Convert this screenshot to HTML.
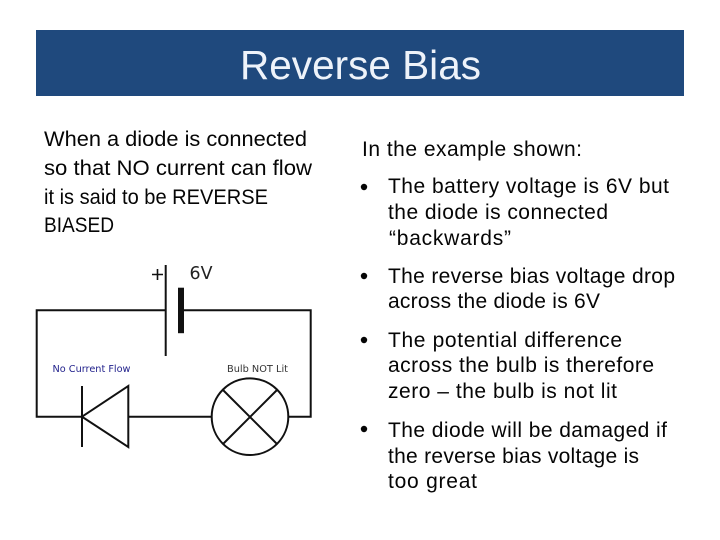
<!DOCTYPE html>
<html>
<head>
<meta charset="utf-8">
<style>
html,body{margin:0;padding:0;background:#fff;width:720px;height:540px;overflow:hidden}
svg{display:block}
.t{font-family:"Liberation Sans",sans-serif;font-size:21px;fill:#050505}
.d{font-family:"DejaVu Sans",sans-serif}
</style>
</head>
<body>
<svg width="720" height="540" viewBox="0 0 720 540" xmlns="http://www.w3.org/2000/svg">
<rect x="0" y="0" width="720" height="540" fill="#fff"/>
<rect x="36" y="30" width="648" height="66" fill="#1f497d"/>
<text x="240" y="79" font-family="'Liberation Sans',sans-serif" font-size="41" fill="#eef3fa" textLength="241" lengthAdjust="spacingAndGlyphs">Reverse Bias</text>

<text class="t" x="44" y="146" textLength="263" lengthAdjust="spacingAndGlyphs">When a diode is connected</text>
<text class="t" x="44" y="175" textLength="268" lengthAdjust="spacingAndGlyphs">so that NO current can flow</text>
<text class="t" x="44" y="204" textLength="224" lengthAdjust="spacingAndGlyphs">it is said to be REVERSE</text>
<text class="t" x="44" y="232" textLength="70" lengthAdjust="spacingAndGlyphs">BIASED</text>

<text class="t" x="362" y="156" textLength="220" lengthAdjust="spacing">In the example shown:</text>
<text class="t" x="388" y="193" textLength="281" lengthAdjust="spacing">The battery voltage is 6V but</text>
<text class="t" x="388" y="219" textLength="220" lengthAdjust="spacing">the diode is connected</text>
<text class="t" x="389" y="245" textLength="122" lengthAdjust="spacing">“backwards”</text>
<text class="t" x="388" y="283" textLength="287" lengthAdjust="spacing">The reverse bias voltage drop</text>
<text class="t" x="388" y="308" textLength="212" lengthAdjust="spacing">across the diode is 6V</text>
<text class="t" x="388" y="347" textLength="234" lengthAdjust="spacing">The potential difference</text>
<text class="t" x="388" y="372" textLength="266" lengthAdjust="spacing">across the bulb is therefore</text>
<text class="t" x="388" y="398" textLength="229" lengthAdjust="spacing">zero – the bulb is not lit</text>
<text class="t" x="388" y="437" textLength="279" lengthAdjust="spacing">The diode will be damaged if</text>
<text class="t" x="388" y="463" textLength="251" lengthAdjust="spacing">the reverse bias voltage is</text>
<text class="t" x="388" y="488" textLength="89" lengthAdjust="spacing">too great</text>

<circle cx="364" cy="187" r="3.2" fill="#050505"/>
<circle cx="364" cy="276" r="3.2" fill="#050505"/>
<circle cx="364" cy="340" r="3.2" fill="#050505"/>
<circle cx="364" cy="429" r="3.2" fill="#050505"/>

<g fill="none" stroke="#111" stroke-width="2">
<path d="M165.7 310.3H36.7V416.7H82"/>
<path d="M184 310.3H310.7V416.7H288.5"/>
<path d="M165.7 265V356"/>
<path d="M82 386V447"/>
<path d="M82 416.7L128.3 386V447Z"/>
<path d="M128.3 416.7H211.5"/>
<circle cx="250" cy="416.7" r="38.3"/>
<path d="M223 390L277 444M277 390L223 444"/>
<path d="M152 274.5H163M157.5 269V280" stroke-width="1.6"/>
</g>
<rect x="178" y="287.7" width="6" height="45.5" fill="#111"/>
<text class="d" x="189.5" y="279" font-size="17.5" fill="#222" textLength="23" lengthAdjust="spacingAndGlyphs">6V</text>
<text class="d" x="52.5" y="372" font-size="10" fill="#22228c" textLength="78" lengthAdjust="spacingAndGlyphs">No Current Flow</text>
<text class="d" x="227" y="372" font-size="10" fill="#333" textLength="61" lengthAdjust="spacingAndGlyphs">Bulb NOT Lit</text>
</svg>
</body>
</html>
